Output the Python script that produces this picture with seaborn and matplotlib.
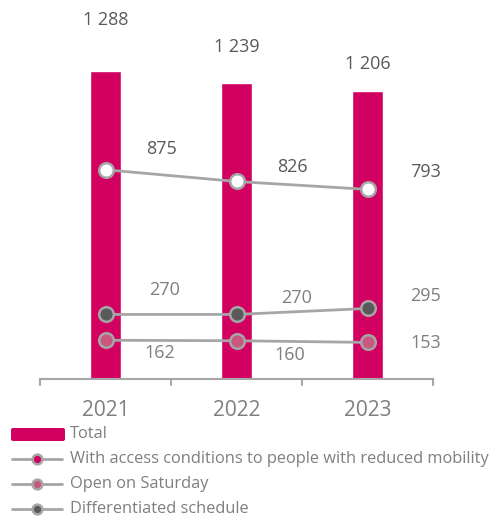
import matplotlib
matplotlib.use("Agg")
import matplotlib.pyplot as plt
import seaborn as sns
import numpy as np
from matplotlib.lines import Line2D
from matplotlib.patches import FancyBboxPatch

years = ["2021", "2022", "2023"]
total = [1288, 1239, 1206]
access = [875, 826, 793]
saturday = [162, 160, 153]
differentiated = [270, 270, 295]
total_labels = ["1 288", "1 239", "1 206"]

MAGENTA = "#D20060"
LINE = "#A6A6A6"
PINK = "#C8587F"
DARK = "#595959"

sns.set_theme(style="white")
plt.rcParams['font.family'] = ['Open Sans', 'DejaVu Sans']

fig = plt.figure(figsize=(4.9, 5.2), dpi=100)
ax = fig.add_axes([40/490, 1 - 379/520, 393/490, 379/520])

sns.barplot(x=years, y=total, color=MAGENTA, width=0.24, saturation=1, ax=ax)
idx = np.arange(len(years))

def draw(vals, face):
    sns.lineplot(x=idx, y=vals, color=LINE, linewidth=2, marker='o', markersize=10.5,
                 markerfacecolor=face, markeredgecolor=LINE, markeredgewidth=1.8, ax=ax, zorder=5)

draw(access, "white")
draw(differentiated, DARK)
draw(saturday, PINK)

ax.set_xlim(-0.5, 2.5)
ax.set_ylim(0, 1585)
for s in ["top", "right", "left"]:
    ax.spines[s].set_visible(False)
ax.spines["bottom"].set_color("#A6A6A6")
ax.spines["bottom"].set_linewidth(1.5)
ax.set_yticks([])
ax.set_xticks(idx)
ax.set_xticklabels(years, fontsize=15, color="#7F7F7F")
ax.tick_params(axis='x', length=0, pad=15)
# category boundary ticks
for b in [-0.5, 0.5, 1.5, 2.5]:
    ax.plot([b, b], [0, -27], color="#A6A6A6", lw=1.5, clip_on=False, zorder=3)

# total labels
total_off = [51, 36, 27]
for i, (v, lab) in enumerate(zip(total, total_labels)):
    ax.annotate(lab, (i, v), xytext=(0, total_off[i]), textcoords="offset pixels",
                ha="center", va="center", fontsize=13, color="#595959")

access_off = [(56, 21), (56, 14), (58, 17)]
for i, v in enumerate(access):
    dx, dy = access_off[i]
    ax.annotate(str(v), (i, v), xytext=(dx, dy), textcoords="offset pixels",
                ha="center", va="center", fontsize=13, color="#595959")
diff_off = [(59, 24), (60, 16), (58, 12)]
for i, v in enumerate(differentiated):
    dx, dy = diff_off[i]
    ax.annotate(str(v), (i, v), xytext=(dx, dy), textcoords="offset pixels",
                ha="center", va="center", fontsize=13, color="#7F7F7F")
sat_off = [(54, -13), (53, -14), (58, -1)]
for i, v in enumerate(saturday):
    dx, dy = sat_off[i]
    ax.annotate(str(v), (i, v), xytext=(dx, dy), textcoords="offset pixels",
                ha="center", va="center", fontsize=13, color="#7F7F7F")

# legend
W, H = 490, 520
def fx(x): return x / W
def fy(y): return 1 - y / H

fig.patches.append(FancyBboxPatch((fx(11), fy(441)), fx(54), 13/H,
                                  boxstyle="round,pad=0,rounding_size=0.004",
                                  transform=fig.transFigure, facecolor=MAGENTA,
                                  edgecolor="none", figure=fig))
fig.text(fx(70), fy(434), "Total", fontsize=11.8, color="#7F7F7F", va="center", ha="left")

rows = [("With access conditions to people with reduced mobility", MAGENTA, 459),
        ("Open on Saturday", PINK, 484),
        ("Differentiated schedule", DARK, 509)]
for lab, face, y in rows:
    fig.lines.append(Line2D([fx(12), fx(62)], [fy(y), fy(y)], transform=fig.transFigure,
                            color=LINE, lw=2, figure=fig))
    fig.lines.append(Line2D([fx(37)], [fy(y)], transform=fig.transFigure, marker='o',
                            markersize=7, markerfacecolor=face, markeredgecolor=LINE,
                            markeredgewidth=1.8, color=LINE, figure=fig))
    fig.text(fx(70), fy(y), lab, fontsize=11.8, color="#7F7F7F", va="center", ha="left")

fig.savefig("out.png", dpi=100)
